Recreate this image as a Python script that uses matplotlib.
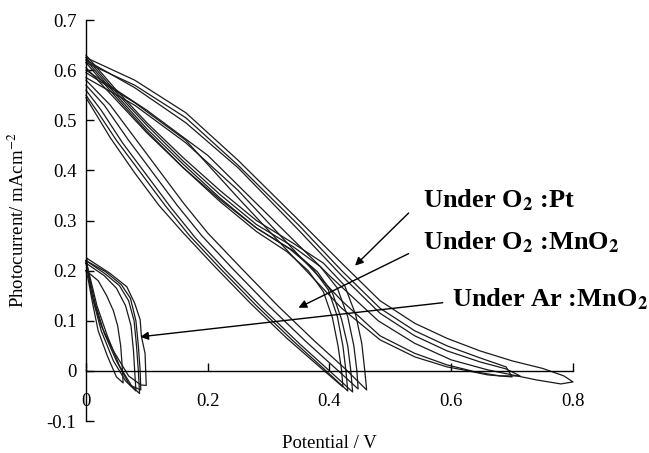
import matplotlib
matplotlib.use("Agg")
import matplotlib.pyplot as plt

plt.rcParams['font.family'] = ['Liberation Serif', 'DejaVu Serif']
plt.rcParams['mathtext.fontset'] = 'stix'

# Data (potential V, photocurrent mA cm-2), one closed loop per list

# Under O2 : Pt  (forward sweep then back)
pt_v = [
    [0, 0.08, 0.164, 0.25, 0.35, 0.42, 0.483, 0.54, 0.593, 0.647, 0.70, 0.75, 0.785, 0.80,
     0.78, 0.74, 0.70, 0.66, 0.60, 0.54, 0.48, 0.40, 0.30, 0.20, 0.10, 0],
    [0, 0.08, 0.164, 0.25, 0.35, 0.42, 0.483, 0.54, 0.593, 0.647, 0.69, 0.713,
     0.68, 0.64, 0.593, 0.54, 0.483, 0.42, 0.35, 0.25, 0.164, 0.08, 0],
    [0, 0.08, 0.164, 0.25, 0.35, 0.42, 0.483, 0.54, 0.593, 0.647, 0.69, 0.70,
     0.66, 0.62, 0.593, 0.54, 0.483, 0.42, 0.35, 0.25, 0.164, 0.08, 0],
]
pt_i = [
    [0.625, 0.58, 0.515, 0.42, 0.30, 0.215, 0.14, 0.095, 0.065, 0.04, 0.02, 0.005, -0.01, -0.022,
     -0.026, -0.018, -0.008, 0.002, 0.022, 0.055, 0.10, 0.19, 0.31, 0.43, 0.52, 0.60],
    [0.62, 0.565, 0.495, 0.405, 0.28, 0.19, 0.115, 0.07, 0.04, 0.018, 0.004, -0.01,
     -0.01, -0.002, 0.012, 0.035, 0.07, 0.14, 0.23, 0.36, 0.455, 0.53, 0.585],
    [0.615, 0.57, 0.505, 0.41, 0.29, 0.20, 0.125, 0.08, 0.05, 0.026, 0.008, -0.012,
     -0.008, 0.002, 0.008, 0.028, 0.062, 0.125, 0.215, 0.345, 0.46, 0.535, 0.595],
]

# Under O2 : MnO2
mn_v = [
    [0, 0.05, 0.10, 0.16, 0.22, 0.28, 0.33, 0.365, 0.39, 0.405, 0.414, 0.42, 0.422,
     0.38, 0.33, 0.27, 0.21, 0.16, 0.12, 0.08, 0.04, 0.015, 0],
    [0, 0.05, 0.10, 0.16, 0.22, 0.28, 0.335, 0.372, 0.398, 0.413, 0.422, 0.427, 0.43,
     0.39, 0.34, 0.28, 0.22, 0.17, 0.13, 0.09, 0.05, 0.02, 0],
    [0, 0.05, 0.10, 0.16, 0.22, 0.28, 0.34, 0.38, 0.405, 0.42, 0.43, 0.435, 0.438,
     0.40, 0.35, 0.29, 0.23, 0.18, 0.14, 0.10, 0.06, 0.025, 0],
    [0, 0.05, 0.10, 0.16, 0.22, 0.28, 0.34, 0.385, 0.413, 0.43, 0.44, 0.445, 0.447,
     0.41, 0.36, 0.30, 0.24, 0.19, 0.15, 0.11, 0.07, 0.03, 0],
    [0, 0.05, 0.10, 0.16, 0.22, 0.28, 0.34, 0.39, 0.425, 0.443, 0.453, 0.458, 0.461,
     0.425, 0.375, 0.315, 0.255, 0.20, 0.16, 0.12, 0.08, 0.04, 0],
]
mn_i = [
    [0.615, 0.545, 0.478, 0.405, 0.338, 0.278, 0.238, 0.20, 0.158, 0.105, 0.05, 0.0, -0.032,
     0.012, 0.065, 0.135, 0.21, 0.275, 0.33, 0.395, 0.465, 0.515, 0.545],
    [0.62, 0.55, 0.483, 0.412, 0.345, 0.285, 0.243, 0.205, 0.162, 0.108, 0.05, 0.0, -0.04,
     0.005, 0.06, 0.13, 0.205, 0.27, 0.33, 0.395, 0.46, 0.515, 0.55],
    [0.605, 0.54, 0.475, 0.405, 0.342, 0.285, 0.24, 0.198, 0.155, 0.102, 0.05, 0.0, -0.042,
     0.0, 0.055, 0.125, 0.20, 0.265, 0.325, 0.39, 0.455, 0.52, 0.56],
    [0.625, 0.555, 0.49, 0.418, 0.352, 0.292, 0.248, 0.208, 0.165, 0.108, 0.05, 0.0, -0.036,
     0.005, 0.06, 0.13, 0.205, 0.27, 0.33, 0.395, 0.46, 0.53, 0.57],
    [0.63, 0.56, 0.495, 0.425, 0.36, 0.30, 0.255, 0.215, 0.17, 0.112, 0.055, 0.0, -0.038,
     0.005, 0.06, 0.13, 0.205, 0.275, 0.335, 0.40, 0.465, 0.53, 0.58],
]

# Under Ar : MnO2
ar_v = [
    [0, 0.02, 0.034, 0.045, 0.052, 0.057, 0.06, 0.061,
     0.05, 0.035, 0.02, 0.01, 0.004, 0],
    [0, 0.03, 0.05, 0.065, 0.074, 0.078, 0.08, 0.082,
     0.065, 0.045, 0.025, 0.012, 0.004, 0],
    [0, 0.03, 0.055, 0.07, 0.079, 0.083, 0.086, 0.088,
     0.07, 0.05, 0.03, 0.015, 0.005, 0],
    [0, 0.032, 0.058, 0.073, 0.082, 0.086, 0.089, 0.09,
     0.075, 0.055, 0.035, 0.018, 0.006, 0],
    [0.001, 0.039, 0.067, 0.080, 0.089, 0.091, 0.097, 0.099,
     0.09, 0.07, 0.045, 0.025, 0.01, 0.003, 0.001],
]
ar_i = [
    [0.20, 0.18, 0.15, 0.12, 0.09, 0.05, 0.0, -0.024,
     -0.012, 0.03, 0.08, 0.14, 0.18, 0.20],
    [0.215, 0.19, 0.165, 0.13, 0.09, 0.04, 0.0, -0.04,
     -0.02, 0.02, 0.08, 0.14, 0.19, 0.215],
    [0.22, 0.195, 0.17, 0.14, 0.10, 0.05, 0.0, -0.045,
     -0.025, 0.02, 0.075, 0.135, 0.19, 0.22],
    [0.22, 0.198, 0.172, 0.145, 0.10, 0.05, 0.0, -0.038,
     -0.03, 0.01, 0.07, 0.13, 0.19, 0.22],
    [0.225, 0.195, 0.168, 0.135, 0.102, 0.069, 0.035, -0.029,
     -0.028, -0.01, 0.04, 0.09, 0.15, 0.20, 0.225],
]

# labels and where their arrows point (data units)
labels = ['Under O$_{\\mathbf{2}}$ :Pt', 'Under O$_{\\mathbf{2}}$ :MnO$_{\\mathbf{2}}$',
          'Under Ar :MnO$_{\\mathbf{2}}$']
label_xy = [(0.553, 0.327), (0.553, 0.2415), (0.601, 0.128)]
arrow_tail = [(0.530, 0.315), (0.530, 0.234), (0.586, 0.136)]
arrow_head = [(0.442, 0.210), (0.349, 0.126), (0.089, 0.068)]

xticks = [0, 0.2, 0.4, 0.6, 0.8]
xtick_labels = ['0', '0.2', '0.4', '0.6', '0.8']
yticks = [-0.1, 0, 0.1, 0.2, 0.3, 0.4, 0.5, 0.6, 0.7]
ytick_labels = ['-0.1', '0', '0.1', '0.2', '0.3', '0.4', '0.5', '0.6', '0.7']


fig = plt.figure(figsize=(6.49, 4.53), dpi=100)
ax = fig.add_axes([0.1325, 0.0706, 0.7504, 0.8852])

for vv, ii in zip(pt_v + mn_v + ar_v, pt_i + mn_i + ar_i):
    ax.plot(vv, ii, color='#1a1a1a', lw=0.9, clip_on=False)

ax.set_xlim(0, 0.8)
ax.set_ylim(-0.1, 0.7)

ax.spines['top'].set_visible(False)
ax.spines['right'].set_visible(False)
ax.spines['bottom'].set_position(('data', 0))
for s in ['left', 'bottom']:
    ax.spines[s].set_linewidth(1.0)

ax.set_xticks(xticks)
ax.set_xticklabels(xtick_labels)
ax.set_yticks(yticks)
ax.set_yticklabels(ytick_labels)
ax.tick_params(axis='x', direction='in', length=6, width=1, pad=16, labelsize=13.5)
ax.tick_params(axis='y', direction='in', length=6, width=1, pad=7, labelsize=13.5)

ax.set_xlabel('Potential / V', fontsize=13.5)
ax.xaxis.set_label_coords(0.5, -0.035)
ax.set_ylabel('Photocurrent/ mAcm$^{-2}$', fontsize=13.5)
ax.yaxis.set_label_coords(-0.12, 0.5)

for txt, pos, tail, head in zip(labels, label_xy, arrow_tail, arrow_head):
    ax.text(pos[0], pos[1], txt, fontsize=19, fontweight='bold', va='baseline', ha='left')
    ax.annotate('', xy=head, xytext=tail,
                arrowprops=dict(arrowstyle='-|>', color='black', lw=1.0,
                                mutation_scale=12, shrinkA=0, shrinkB=0))

fig.savefig('out.png', dpi=100)
